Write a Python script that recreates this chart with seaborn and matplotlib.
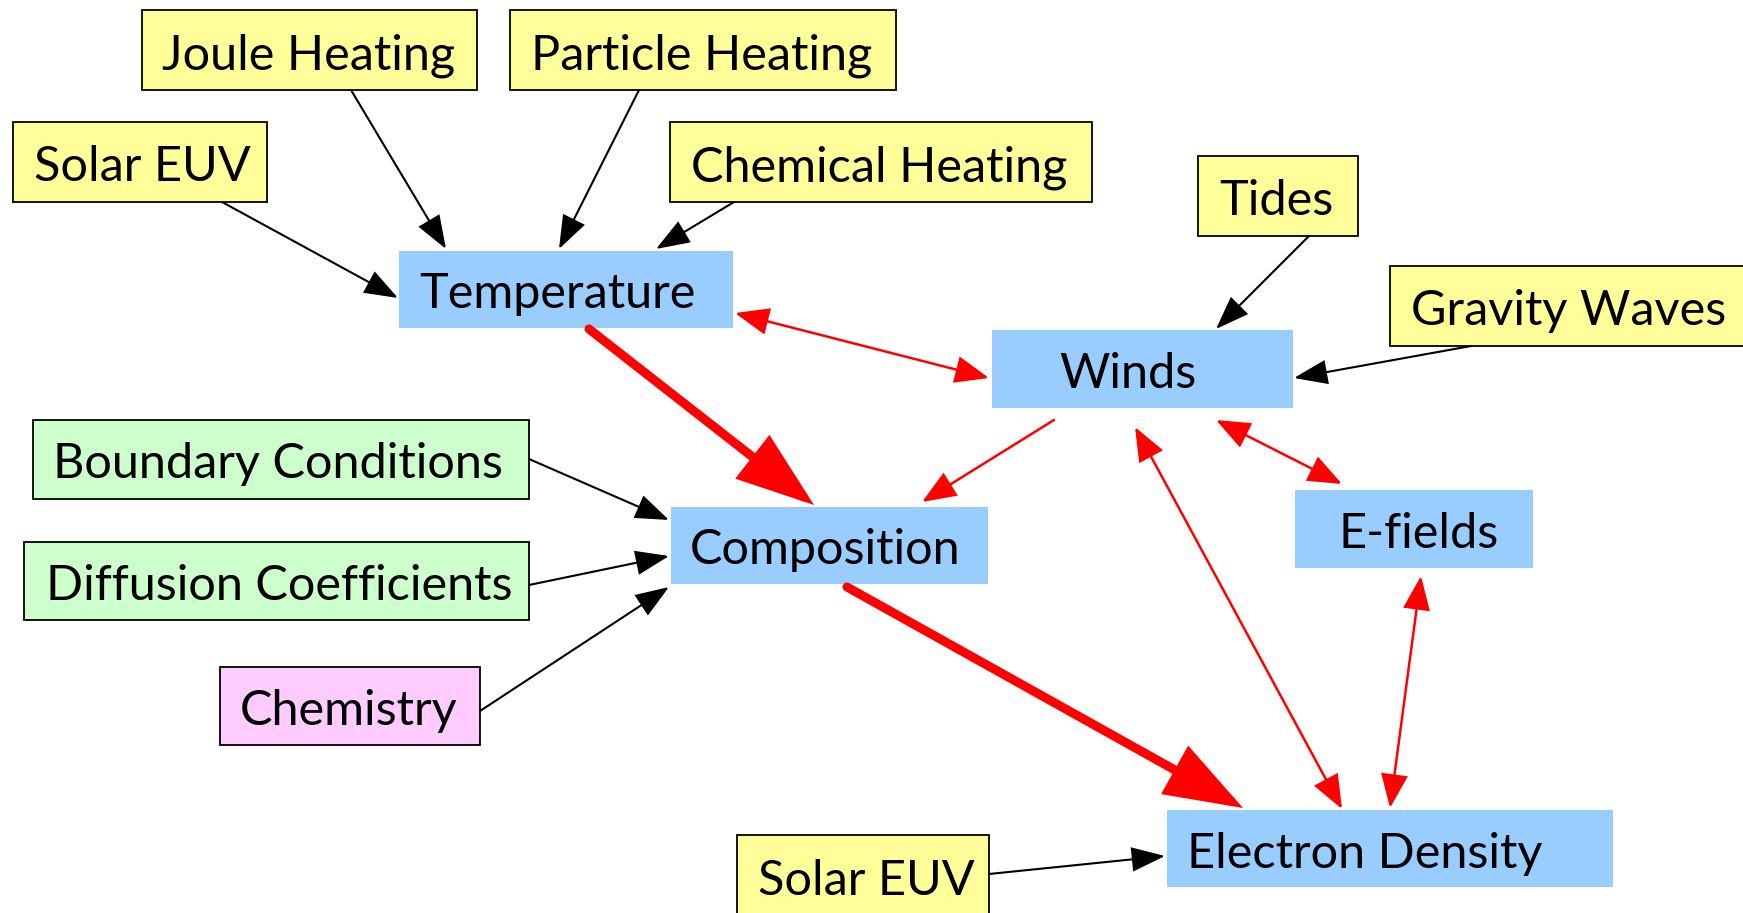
import matplotlib
matplotlib.use("Agg")
import matplotlib.pyplot as plt
import seaborn as sns
from matplotlib.patches import Rectangle, FancyArrowPatch

# ---------------- data ----------------
labels = ["Joule Heating", "Particle Heating", "Solar EUV", "Chemical Heating",
          "Temperature", "Tides", "Gravity Waves", "Winds",
          "Boundary Conditions", "Composition", "E-fields",
          "Diffusion Coefficients", "Chemistry", "Electron Density", "Solar EUV"]
kinds = ["driver", "driver", "driver", "driver",
         "state", "driver", "driver", "state",
         "input", "state", "state",
         "input", "chem", "state", "driver"]

# edges: (from node index, to node index, type)
edge_from = [2, 0, 1, 3, 5, 6, 4, 4, 7, 7, 13, 10, 9, 8, 11, 12, 14]
edge_to   = [4, 4, 4, 4, 7, 7, 7, 9, 9, 10, 7, 13, 13, 9, 9, 9, 13]
edge_type = ["black", "black", "black", "black", "black", "black",
             "red2", "thick", "red", "red2", "red2", "red2", "thick",
             "black", "black", "black", "black"]

# ---------------- layout (pixel coordinates) ----------------
boxes = [(142, 10, 477, 90), (510, 10, 896, 90), (13, 122, 267, 202),
         (670, 122, 1092, 202), (399, 251, 733, 328), (1198, 156, 1358, 236),
         (1390, 266, 1760, 346), (992, 330, 1293, 408), (33, 420, 529, 499),
         (671, 507, 988, 584), (1295, 490, 1533, 568), (24, 542, 529, 620),
         (220, 667, 480, 745), (1167, 810, 1613, 887), (737, 835, 917, 917)]
boxes[14] = (737, 835, 989, 917)
text_x = [162, 531, 34, 691, 419, 1219, 1411, 1059, 53, 690, 1339, 46, 240, 1187, 758]
edge_pts = [((222, 202), (398, 298)), ((351, 90), (446, 249)), ((639, 90), (559, 249)),
            ((734, 202), (656, 249)), ((1309, 236), (1216, 329)), ((1471, 346), (1294, 378)),
            ((735, 313), (989, 378)), ((589, 329), (814, 505)), ((1054, 420), (922, 502)),
            ((1216, 420), (1342, 484)), ((1135, 427), (1342, 809)), ((1421, 576), (1390, 808)),
            ((847, 587), (1243, 808)), ((529, 459), (669, 520)), ((529, 585), (669, 556)),
            ((480, 711), (669, 587)), ((989, 874), (1165, 856))]

fill = {"driver": "#FFFF99", "state": "#99CCFF", "input": "#CCFFCC", "chem": "#FFCCFF"}

sns.set_theme(style="white")
plt.rcParams["font.family"] = ["Lato", "DejaVu Sans"]

W, H = 1743, 913
fig = plt.figure(figsize=(W / 100, H / 100), dpi=100)
ax = fig.add_axes([0, 0, 1, 1])
ax.set_xlim(0, W)
ax.set_ylim(H, 0)
ax.axis("off")
sns.despine(ax=ax, left=True, bottom=True)

for lab, kind, (x0, y0, x1, y1), tx in zip(labels, kinds, boxes, text_x):
    if kind == "state":
        r = Rectangle((x0, y0), x1 - x0, y1 - y0, facecolor=fill[kind],
                      edgecolor="none", zorder=2)
    else:
        r = Rectangle((x0, y0), x1 - x0, y1 - y0, facecolor=fill[kind],
                      edgecolor="black", linewidth=1.3, zorder=2)
    ax.add_patch(r)
    ax.text(tx, (y0 + y1) / 2 + 19, lab, fontsize=35, ha="left", va="baseline",
            color="black", zorder=3)

styles = {
    "black": dict(arrowstyle="-|>,head_length=1.5,head_width=0.55", color="black",
                  lw=1.5, mutation_scale=14),
    "red": dict(arrowstyle="-|>,head_length=1.5,head_width=0.6", color="#FF0000",
                lw=1.8, mutation_scale=14),
    "red2": dict(arrowstyle="<|-|>,head_length=1.5,head_width=0.6", color="#FF0000",
                 lw=1.8, mutation_scale=14),
    "thick": dict(arrowstyle="-|>,head_length=3.1,head_width=1.1", color="#FF0000",
                  lw=6.5, mutation_scale=14),
}
for (p0, p1), t in zip(edge_pts, edge_type):
    st = styles[t]
    a = FancyArrowPatch(p0, p1, arrowstyle=st["arrowstyle"], color=st["color"],
                        lw=st["lw"], mutation_scale=st["mutation_scale"],
                        shrinkA=0, shrinkB=0, zorder=4, joinstyle="miter")
    ax.add_patch(a)

fig.savefig("out.png", dpi=100)
